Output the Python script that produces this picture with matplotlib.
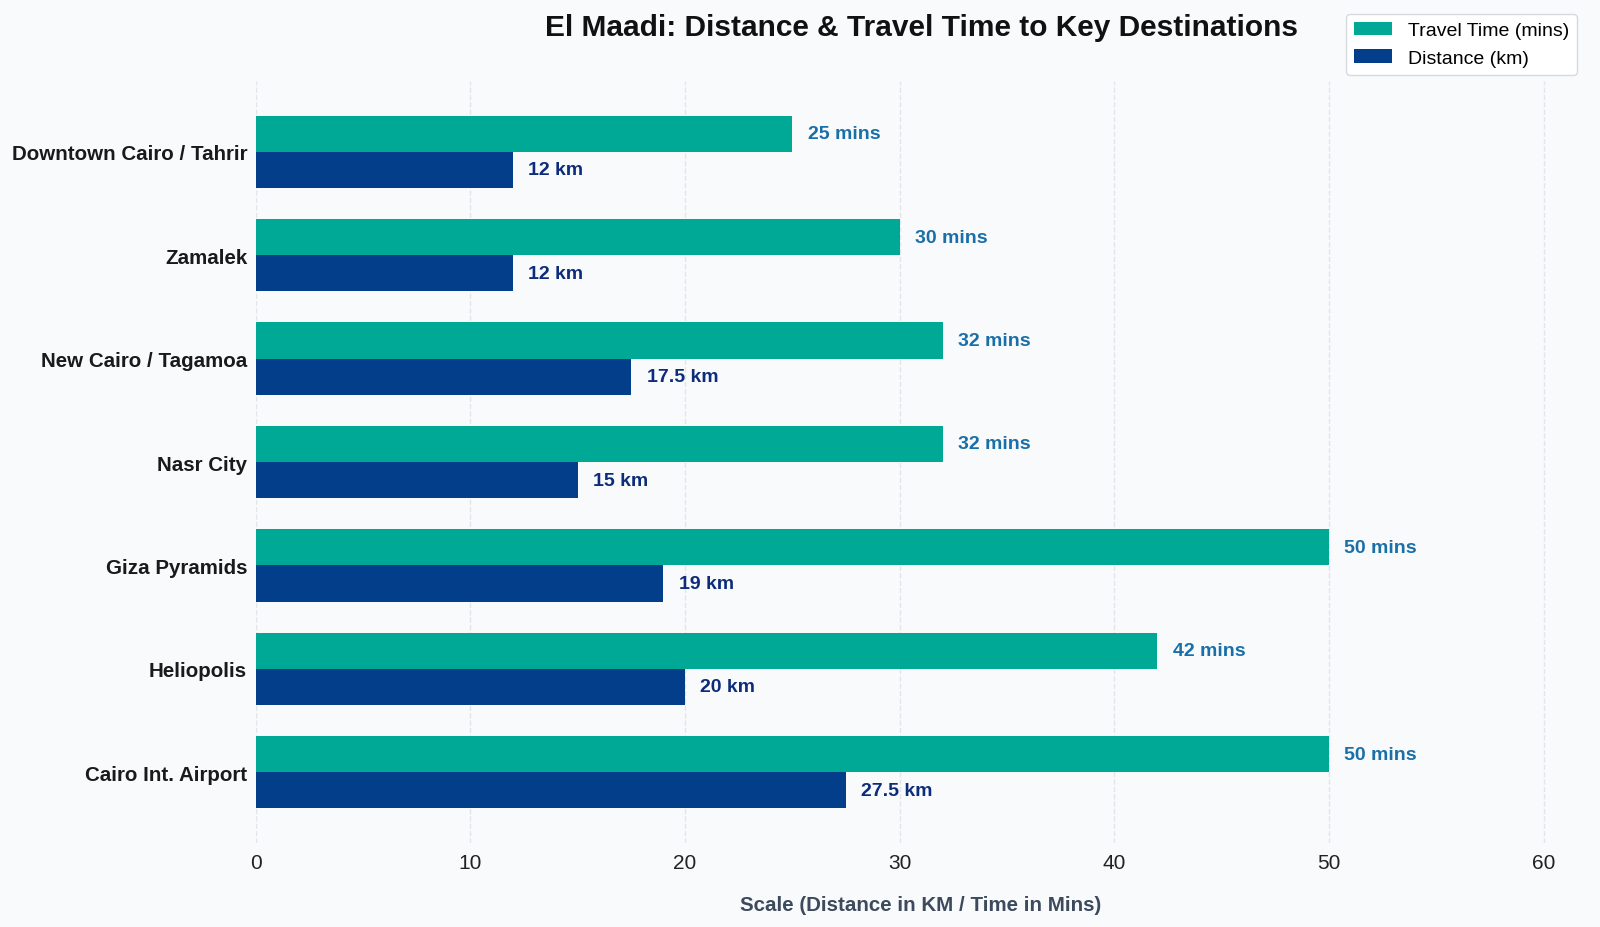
import matplotlib
matplotlib.use("Agg")
import matplotlib.pyplot as plt
import numpy as np

plt.rcParams['font.family'] = ['Liberation Sans', 'DejaVu Sans']

destinations = ["Downtown Cairo / Tahrir", "Zamalek", "New Cairo / Tagamoa", "Nasr City",
                "Giza Pyramids", "Heliopolis", "Cairo Int. Airport"]
travel_time = [25, 30, 32, 32, 50, 42, 50]
distance = [12, 12, 17.5, 15, 19, 20, 27.5]
time_labels = ["25 mins", "30 mins", "32 mins", "32 mins", "50 mins", "42 mins", "50 mins"]
dist_labels = ["12 km", "12 km", "17.5 km", "15 km", "19 km", "20 km", "27.5 km"]
xticks = [0, 10, 20, 30, 40, 50, 60]

BG = "#f8fafc"
TEAL = "#00a896"
NAVY = "#023e8a"

fig = plt.figure(figsize=(16, 9.28), dpi=100, facecolor=BG)
ax = fig.add_axes([0.1597, 0.0905, 0.9917 - 0.1597, 0.9116 - 0.0905])
ax.set_facecolor(BG)

y = np.arange(len(destinations))
h = 0.35
b1 = ax.barh(y - h / 2, travel_time, height=h, color=TEAL, label="Travel Time (mins)", zorder=3)
b2 = ax.barh(y + h / 2, distance, height=h, color=NAVY, label="Distance (km)", zorder=3)

for yi, v, t in zip(y, travel_time, time_labels):
    ax.annotate(t, (v, yi - h / 2), xytext=(11, 0), textcoords="offset points",
                va="center", ha="left", fontsize=14, fontweight="bold", color="#1a6fa8")
for yi, v, t in zip(y, distance, dist_labels):
    ax.annotate(t, (v, yi + h / 2), xytext=(11, 0), textcoords="offset points",
                va="center", ha="left", fontsize=14, fontweight="bold", color="#0d2c7a")

ax.set_yticks(y)
ax.set_yticklabels(destinations, fontsize=14.8, fontweight="bold", color="#1a1a1a")
ax.invert_yaxis()
ax.set_xlim(0, 62)
ax.set_xticks(xticks)
ax.tick_params(axis="x", labelsize=15, length=0, pad=7, labelcolor="#222222")
ax.tick_params(axis="y", length=0, pad=6)
for s in ax.spines.values():
    s.set_visible(False)
ax.grid(axis="x", linestyle="--", color="#e2e5e9", linewidth=1, zorder=0)
ax.set_axisbelow(True)

ax.set_xlabel("Scale (Distance in KM / Time in Mins)", fontsize=14.8, fontweight="bold",
              color="#3d4a5c", labelpad=17)
ax.set_title("El Maadi: Distance & Travel Time to Key Destinations", fontsize=21.5,
             fontweight="bold", color="#111111", pad=33)

leg = fig.legend(handles=[b1, b2], loc="upper right", bbox_to_anchor=(1577 / 1600, 1 - 15 / 928),
                 borderaxespad=0, fontsize=14, frameon=True, handlelength=2.0,
                 facecolor="white", edgecolor="#d6d9de", framealpha=1)

fig.savefig("out.png", dpi=100, facecolor=BG)
